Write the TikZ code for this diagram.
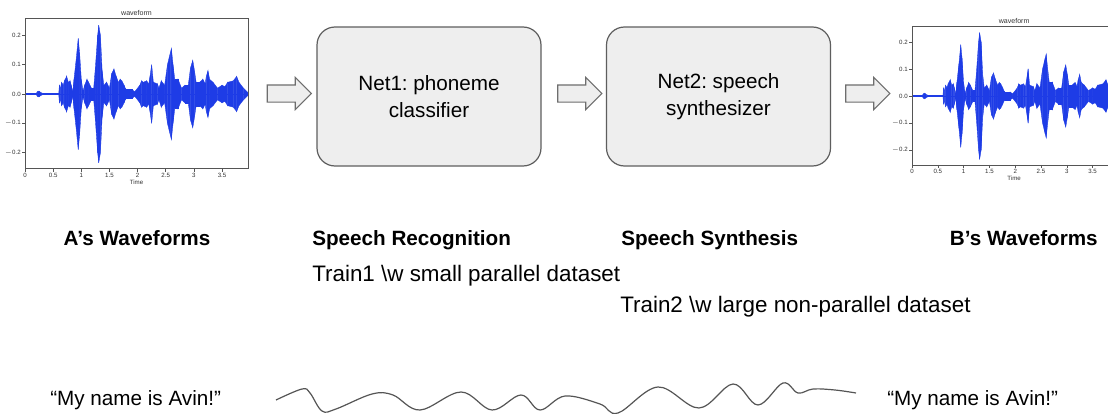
\documentclass[tikz,border=0pt]{standalone}
\usepackage{fontspec}
\setmainfont{Liberation Sans}
\usetikzlibrary{shapes.arrows}
\definecolor{boxfill}{HTML}{EEEEEE}
\definecolor{boxline}{HTML}{5E5E5E}
\definecolor{arrline}{HTML}{6E6E6E}
\definecolor{wavec}{HTML}{1E3CE6}
\definecolor{axisc}{HTML}{555555}
\definecolor{ticklab}{HTML}{333333}
\definecolor{curvec}{HTML}{555555}
\frenchspacing
\def\envlist{0.2/0.002, 0.22/0.008, 0.25/0.01, 0.28/0.005, 0.32/0.002, 0.6/0.002, 0.61/0.03, 0.63/0.02, 0.65/0.04, 0.68/0.03, 0.7/0.045, 0.74/0.06, 0.77/0.04, 0.8/0.045, 0.82/0.03, 0.85/0.01, 0.87/0.05, 0.91/0.12, 0.945/0.19, 0.97/0.14, 1.0/0.05, 1.03/0.01, 1.06/0.03, 1.1/0.05, 1.13/0.04, 1.18/0.02, 1.22/0.02, 1.25/0.09, 1.29/0.2, 1.31/0.235, 1.34/0.2, 1.37/0.08, 1.4/0.03, 1.45/0.04, 1.5/0.02, 1.54/0.07, 1.58/0.085, 1.62/0.06, 1.66/0.04, 1.69/0.05, 1.72/0.045, 1.76/0.03, 1.78/0.02, 1.8/0.015, 1.9/0.015, 1.95/0.008, 2.04/0.03, 2.07/0.045, 2.1/0.04, 2.16/0.045, 2.2/0.035, 2.22/0.06, 2.25/0.1, 2.28/0.04, 2.35/0.035, 2.38/0.02, 2.42/0.045, 2.48/0.03, 2.53/0.1, 2.58/0.14, 2.6/0.155, 2.63/0.1, 2.66/0.05, 2.72/0.05, 2.78/0.02, 2.84/0.03, 2.9/0.03, 2.94/0.09, 2.98/0.115, 3.01/0.08, 3.04/0.04, 3.1/0.04, 3.16/0.05, 3.2/0.035, 3.22/0.06, 3.25/0.08, 3.28/0.05, 3.34/0.04, 3.42/0.02, 3.5/0.03, 3.55/0.025, 3.6/0.04, 3.7/0.045, 3.76/0.06, 3.8/0.04, 3.88/0.02, 3.96/0.005}
% #1 x0, #2 y0 (zero line), #3 px per second, #4 px per unit amplitude, #5 name prefix
\newcommand\drawplot[5]{%
  \foreach \t/\a [remember=\t as \tp (initially 0), remember=\a as \ap (initially 0.002)] in \envlist {
    \filldraw[wavec, line width=0.25pt] ({#1+\tp*#3},{#2-\ap*#4}) -- ({#1+\t*#3},{#2-\a*#4}) -- ({#1+\t*#3},{#2+\a*#4}) -- ({#1+\tp*#3},{#2+\ap*#4}) -- cycle;
  }
  \draw[wavec, line width=0.4pt] (#1,#2) -- ({#1+3.96*#3},#2);
  \draw[axisc, line width=0.45pt] (#1,{#2-0.26*#4}) rectangle ({#1+3.96*#3},{#2+0.255*#4});
  \node[ticktext, anchor=south] (#5title) at ({#1+1.98*#3},{#2-0.26*#4-2}) {\fontsize{5.3}{6}\selectfont waveform};
  \foreach \t/\l [count=\i] in {0/0, 0.5/0.5, 1/1, 1.5/1.5, 2/2, 2.5/2.5, 3/3, 3.5/3.5} {
    \draw[axisc, line width=0.4pt] ({#1+\t*#3},{#2+0.255*#4}) -- ({#1+\t*#3},{#2+0.255*#4+3});
    \node[ticktext, anchor=north] (#5x\i) at ({#1+\t*#3},{#2+0.255*#4+4}) {\l};
  }
  \node[ticktext, anchor=north] (#5time) at ({#1+1.98*#3},{#2+0.255*#4+11}) {Time};
  \foreach \a/\l [count=\i] in {0.2/0.2, 0.1/0.1, 0/0.0, -0.1/$-$0.1, -0.2/$-$0.2} {
    \draw[axisc, line width=0.4pt] (#1,{#2-\a*#4}) -- ({#1-3},{#2-\a*#4});
    \node[ticktext, anchor=east] (#5y\i) at ({#1-4},{#2-\a*#4}) {\l};
  }
}
\begin{document}
\begin{tikzpicture}[x=0.75pt, y=-0.75pt,
  netbox/.style={draw=boxline, fill=boxfill, rounded corners=13.5pt, minimum width=168pt, minimum height=104.25pt, line width=0.9pt, align=center, font=\fontsize{15.5}{20.5}\selectfont},
  blockarrow/.style={single arrow, draw=arrline, fill=boxfill, line width=0.8pt, minimum height=33pt, inner xsep=0pt, inner ysep=6pt, single arrow head extend=5.6pt, single arrow head indent=0pt},
  boldlabel/.style={inner sep=0pt, font=\fontsize{15.5}{18}\selectfont\bfseries},
  plainlabel/.style={inner sep=0pt, font=\fontsize{15.5}{18}\selectfont},
  trainlabel/.style={inner sep=0pt, font=\fontsize{16.8}{19}\selectfont},
  ticktext/.style={inner sep=0pt, text=ticklab, font=\fontsize{4.6}{5.5}\selectfont},
  curve/.style={draw=curvec, line width=0.9pt}
]
\useasboundingbox (0,0) rectangle (1108,414);
\clip (0,0) rectangle (1108,414);
\fill[white] (0,0) rectangle (1108,414);

% waveform plots
\drawplot{25}{94}{56.3}{293}{pa}
\drawplot{912}{96}{51.6}{270}{pb}

% networks
\node[netbox] (net1) at (429,96.5) {Net1: phoneme\\classifier};
\node[netbox] (net2) at (718.5,96.5) {Net2: speech\\synthesizer};

% block arrows
\node[blockarrow] (arr1) at (285,93.5) {};
\node[blockarrow] (arr2) at (575.5,93.5) {};
\node[blockarrow] (arr3) at (863.5,93.5) {};

% labels
\node[boldlabel, anchor=base] (lA) at (137,245.5) {A’s Waveforms};
\node[boldlabel, anchor=base west] (lR) at (312,245.5) {Speech Recognition};
\node[boldlabel, anchor=base west] (lS) at (621,245.5) {Speech Synthesis};
\node[boldlabel, anchor=base east] (lB) at (1098,245.5) {B’s Waveforms};
\node[trainlabel, anchor=base west] (tr1) at (312,281) {Train1 \textbackslash w small parallel dataset};
\node[trainlabel, anchor=base west] (tr2) at (620,312) {Train2 \textbackslash w large non-parallel dataset};
\node[plainlabel, anchor=base west] (q1) at (50,405.5) {“My name is Avin!”};
\node[plainlabel, anchor=base west] (q2) at (887,405.5) {“My name is Avin!”};

% wavy line
\coordinate (ws) at (276,400);
\coordinate (we) at (856,393);
\draw[curve] plot[smooth, tension=0.6] coordinates {(ws) (302,389) (310,393) (322,411) (336,409) (372,394) (393,395) (420,410) (461,392) (492,410) (521,395) (540,410) (565,396) (600,404) (618,413) (658,387) (699,408) (733,384) (758,405) (783,383) (798,393) (813,389) (835,390) (we)};
\end{tikzpicture}
\end{document}
